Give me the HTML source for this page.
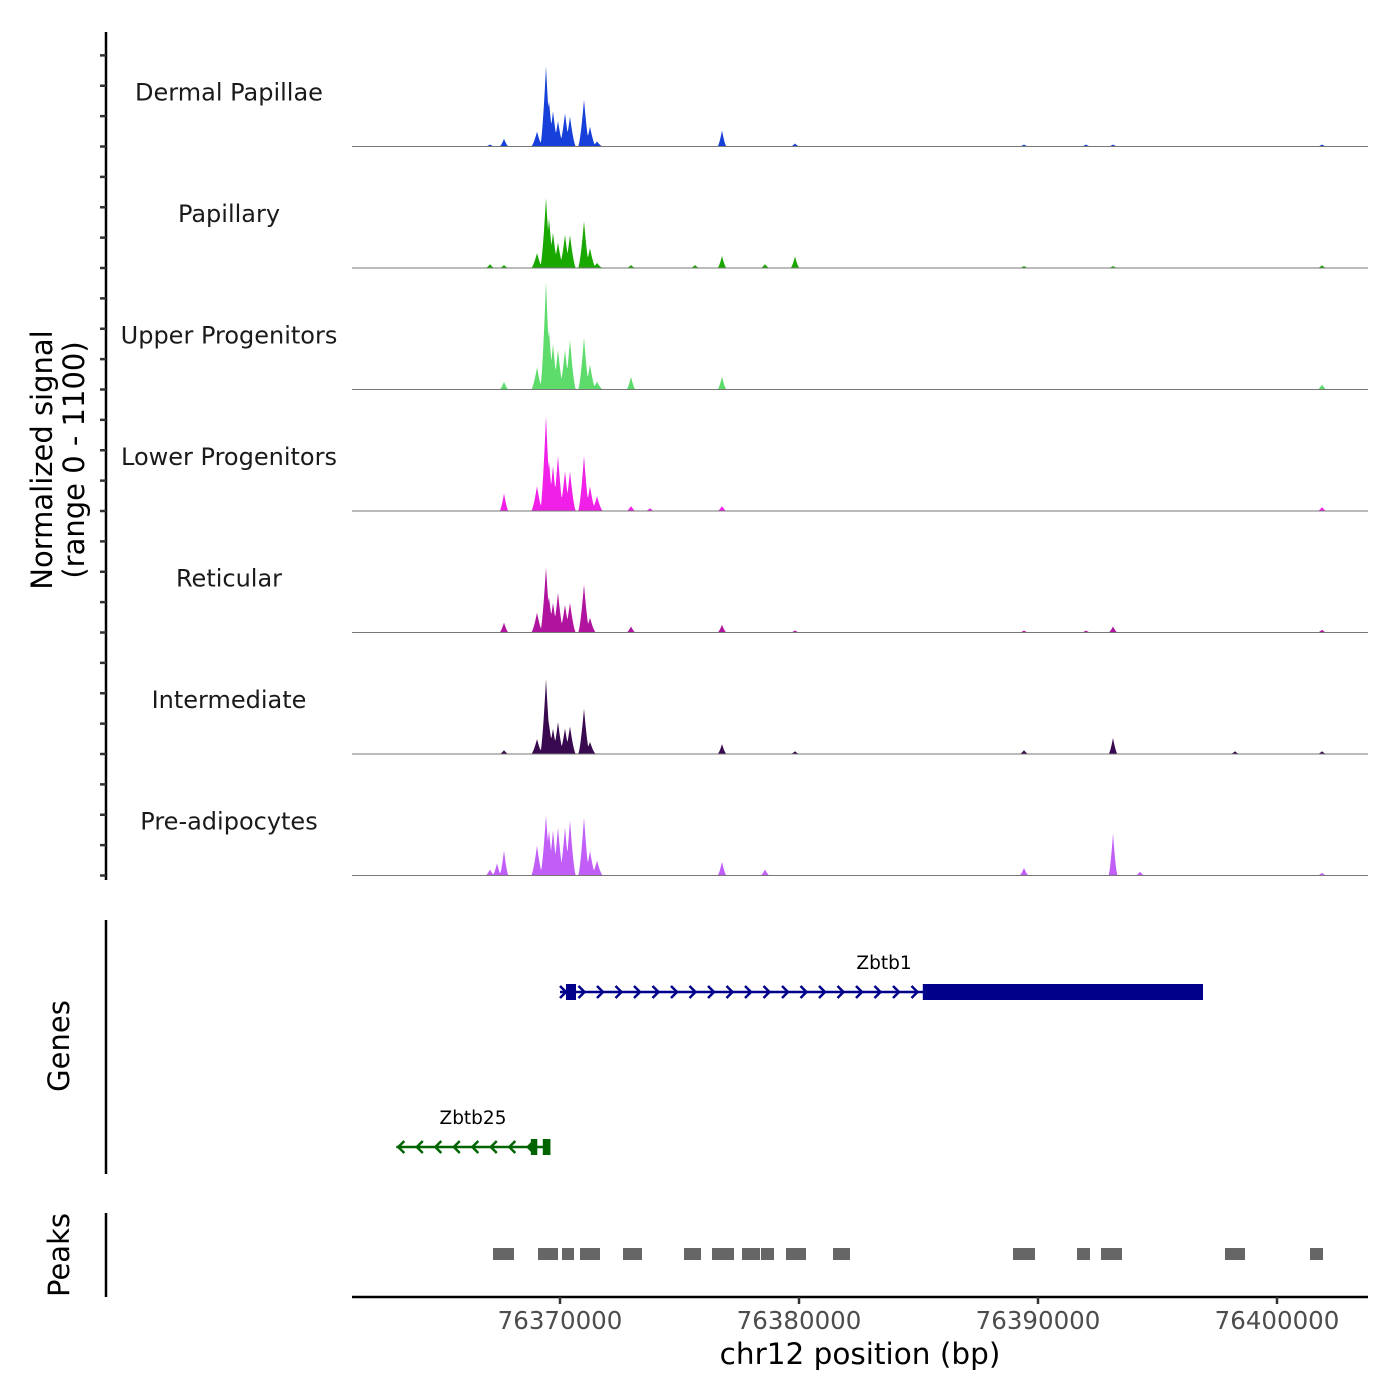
<!DOCTYPE html>
<html><head><meta charset="utf-8"><style>
html,body{margin:0;padding:0;background:#fff;}
svg{display:block;font-family:"DejaVu Sans","Liberation Sans",sans-serif;}
</style></head><body>
<svg id="chart" width="1400" height="1400" viewBox="0 0 1400 1400" xmlns="http://www.w3.org/2000/svg"></svg>
<script>
// ---- data ----
const trackNames = ["Dermal Papillae","Papillary","Upper Progenitors","Lower Progenitors","Reticular","Intermediate","Pre-adipocytes"];
const trackColors = ["#1640d9","#19a800","#5ddc6c","#f020e8","#b0149e","#3a0a50","#c25ef8"];
// peak centres (bp)
const peakPos = [76367071,76367364,76367657,76369038,76369414,76369540,76369707,76369916,76370209,76370418,76371004,76371255,76371548,76372971,76373766,76375648,76376778,76378577,76379833,76389414,76392008,76393138,76394268,76398243,76401883];
// heights per track (0-1100) aligned with peakPos
const dermal   = [18,0,70,135,725,410,320,230,300,270,425,180,45,0,0,0,145,0,27,18,18,18,0,0,18];
const papill   = [35,0,27,135,635,450,320,230,300,300,425,180,45,27,0,27,110,35,105,18,0,18,0,0,25];
const upper    = [0,0,70,200,980,540,410,360,360,450,470,225,70,115,0,0,115,0,0,0,0,0,0,0,45];
const lower    = [0,0,160,225,860,450,410,500,360,360,500,225,135,45,25,0,45,0,0,0,0,0,0,0,35];
const retic    = [0,0,90,180,590,320,270,360,250,270,435,135,0,55,0,0,70,0,18,18,18,55,0,0,25];
const interm   = [0,0,35,135,680,270,230,290,230,250,410,110,0,0,0,0,90,0,25,35,0,145,0,25,25];
const preadip  = [55,110,225,270,545,410,410,435,435,500,525,225,135,0,0,0,125,55,0,70,0,380,35,0,25];
const signals = [dermal,papill,upper,lower,retic,interm,preadip];
const maxSignal = 1100;
// genes
const genes = [
 {name:"Zbtb1", start:76370000, end:76405650, strand:1, color:"#00008b", row:0,
  exons:[[76370250,76370670],[76385180,76397050]]},
 {name:"Zbtb25", start:76363150, end:76369600, strand:-1, color:"#006400", row:1,
  exons:[[76368780,76369050],[76369280,76369600]]}
];
const peakStarts = [76367197,76369079,76370084,76370837,76372636,76375188,76376360,76377615,76378410,76379456,76381423,76388954,76391632,76392636,76397824,76401381];
const peakEnds   = [76368075,76369916,76370586,76371674,76373431,76375900,76377280,76378368,76378954,76380293,76382134,76389874,76392176,76393515,76398661,76401925];
const xTicks = [76370000,76380000,76390000,76400000];

// ---- scales ----
const X0=352, X1=1368, BP0=76361297, PXPERBP=0.0239;
function xs(bp){return X0+(bp-BP0)*PXPERBP;}
const trackTop=25, trackH=121.5;
function baseY(i){return trackTop+trackH*(i+1);}
function ys(i,v){return baseY(i)-v/maxSignal*trackH;}

const svg=document.getElementById('chart');
const NS="http://www.w3.org/2000/svg";
function mk(tag,attrs,parent){const e=document.createElementNS(NS,tag);for(const k in attrs)e.setAttribute(k,attrs[k]);(parent||svg).appendChild(e);return e;}

// left axis for coverage
let ax=mk('line',{x1:106,y1:32,x2:106,y2:880,stroke:'#000','stroke-width':2.5});


for(let y=baseY(6);y>=50;y-=trackH/4){
  const t=mk('line',{x1:100,y1:y,x2:106,y2:y,stroke:'#333','stroke-width':2.5});
  
  
}
let yt=mk('text',{transform:'translate(52,460) rotate(-90)','text-anchor':'middle','font-size':29,fill:'#000'});


mk('tspan',{x:0,dy:0},yt).textContent='Normalized signal';
mk('tspan',{x:0,dy:32},yt).textContent='(range 0 - 1100)';

// coverage tracks
const halfW=190; // bp half width of each bump
for(let i=0;i<signals.length;i++){
  const g=mk('g',{});
  
  
  const lab=mk('text',{x:229,y:baseY(i)-46,'text-anchor':'middle','font-size':24,fill:'#1a1a1a'},g);
  lab.textContent=trackNames[i];
  
  
  let d='M'+X0+','+baseY(i);
  for(let px=X0;px<=X1;px+=0.5){
    const bp=BP0+(px-X0)/PXPERBP;
    let v=0;
    for(let k=0;k<peakPos.length;k++){
      const w=(k>=3&&k<=12)?halfW*1.3:halfW;
      const dd=Math.abs(bp-peakPos[k]);
      if(dd<w){const c=signals[i][k]*Math.pow(1-dd/w,1.5);if(c>v)v=c;}
    }
    d+=' L'+px.toFixed(1)+','+ys(i,v).toFixed(2);
  }
  d+=' L'+X1+','+baseY(i)+' Z';
  const p=mk('path',{d:d,fill:trackColors[i]},g);
  
  
  const bl=mk('line',{x1:X0,y1:baseY(i),x2:X1,y2:baseY(i),stroke:'#777','stroke-width':1},g);
  
  
}

// genes panel
let gax=mk('line',{x1:106,y1:920,x2:106,y2:1174,stroke:'#000','stroke-width':2.5});


let gt=mk('text',{transform:'translate(69,1046) rotate(-90)','text-anchor':'middle','font-size':29});
gt.textContent='Genes';


const rowY=[992,1147];
genes.forEach(gn=>{
  const g=mk('g',{});
  
  
  const y=rowY[gn.row];
  const xa=xs(gn.start), xb=Math.min(xs(gn.end),1203);
  mk('line',{x1:xa,y1:y,x2:xb,y2:y,stroke:gn.color,'stroke-width':2.5},g);
  for(let x=xa+4;x<xb-6;x+=18.5){
    const s=gn.strand;
    mk('polyline',{points:`${x-4*s},${y-6} ${x+2*s},${y} ${x-4*s},${y+6}`,fill:'none',stroke:gn.color,'stroke-width':2.5},g);
  }
  gn.exons.forEach(e=>{
    const a=xs(e[0]),b=Math.min(xs(e[1]),1203);
    mk('rect',{x:a,y:y-8,width:b-a,height:16,fill:gn.color},g);
  });
  const lab=mk('text',{x:gn.row===0?884:473,y:y-23,'text-anchor':'middle','font-size':18.5},g);
  lab.textContent=gn.name;
});

// peaks panel
let pax=mk('line',{x1:106,y1:1213,x2:106,y2:1297,stroke:'#000','stroke-width':2.5});


let pt=mk('text',{transform:'translate(69,1255) rotate(-90)','text-anchor':'middle','font-size':29});
pt.textContent='Peaks';


for(let k=0;k<peakStarts.length;k++){
  const r=mk('rect',{x:xs(peakStarts[k]),y:1248,width:xs(peakEnds[k])-xs(peakStarts[k]),height:12,fill:'#666'});
  
  
}

// x axis
let xl=mk('line',{x1:X0,y1:1297,x2:X1,y2:1297,stroke:'#000','stroke-width':2.5});


xTicks.forEach(t=>{
  const tk=mk('line',{x1:xs(t),y1:1297,x2:xs(t),y2:1304,stroke:'#333','stroke-width':2.5});
  
  
  const tl=mk('text',{x:xs(t),y:1329,'text-anchor':'middle','font-size':24.5,fill:'#4d4d4d'});
  tl.textContent=t;
  
  
});
let xt=mk('text',{x:860,y:1364,'text-anchor':'middle','font-size':29.5});
xt.textContent='chr12 position (bp)';


</script>
</body></html>
